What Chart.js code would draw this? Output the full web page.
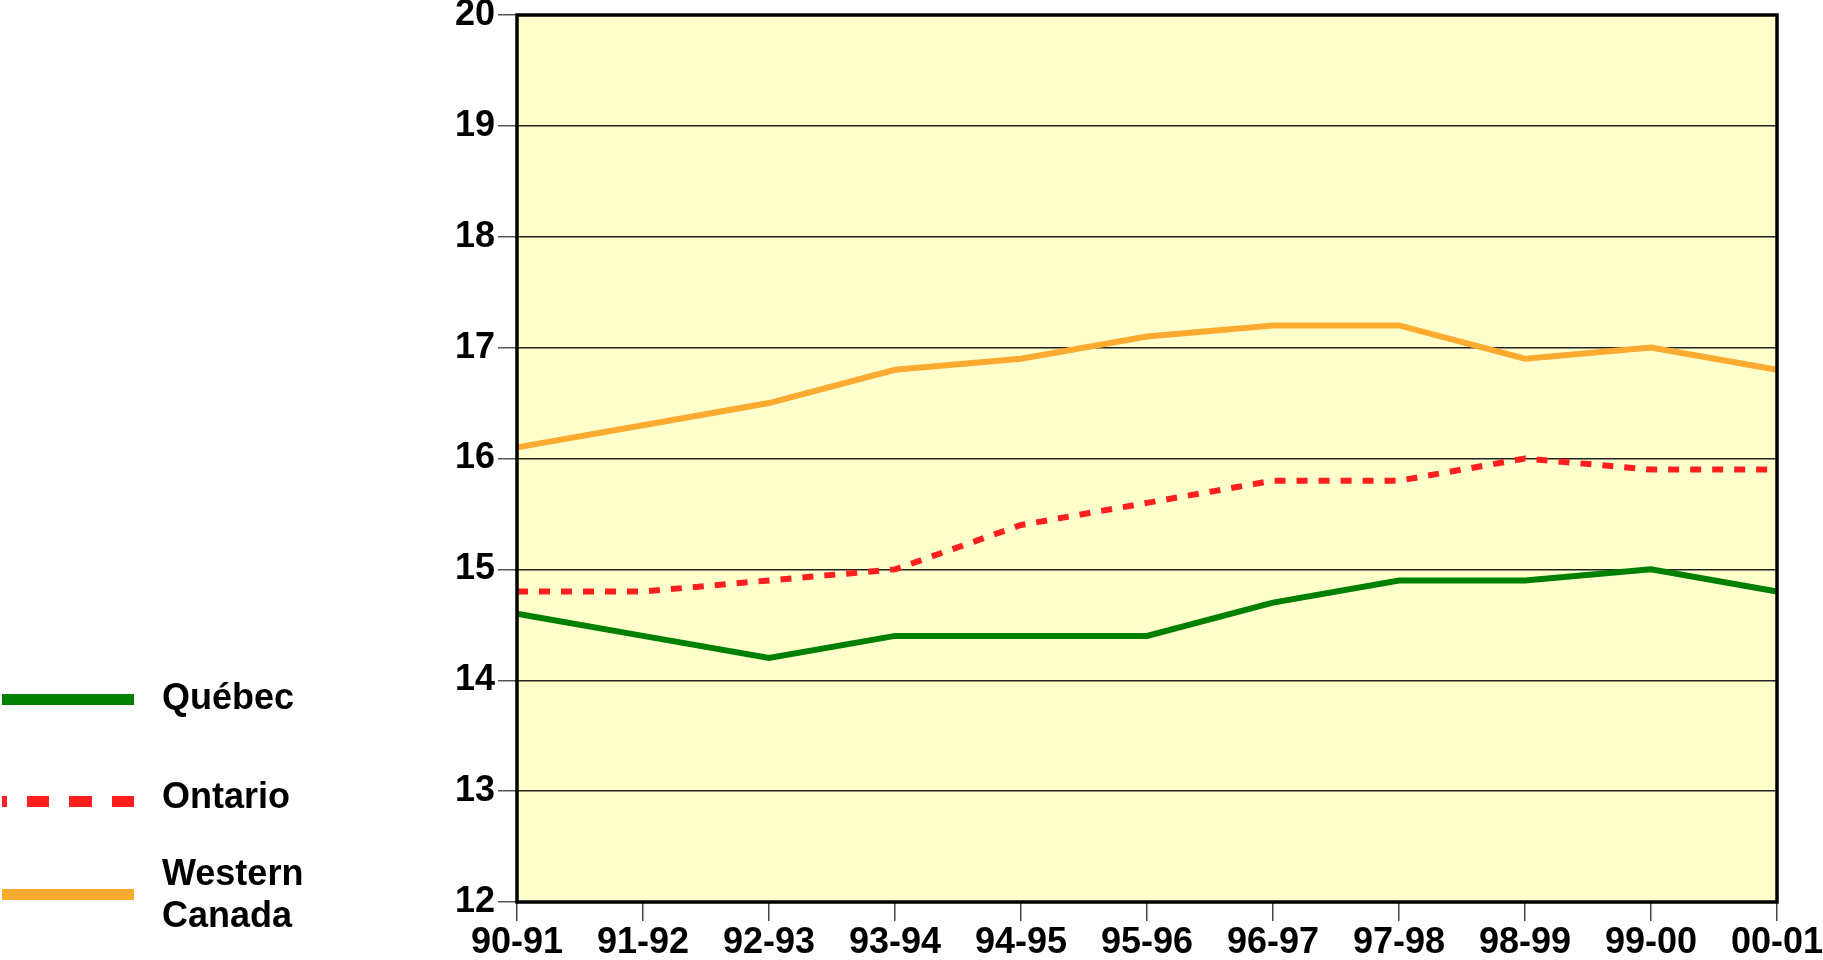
<!DOCTYPE html>
<html>
<head>
<meta charset="utf-8">
<script src="https://cdn.jsdelivr.net/npm/chart.js@4/dist/chart.umd.min.js"></script>
<style>
  html, body { margin: 0; padding: 0; background: #ffffff; }
  #wrap { position: relative; width: 1823px; height: 960px; overflow: hidden; }
  #chart { position: absolute; left: 0; top: 0; }
  .lg-line { position: absolute; left: 2px; width: 132px; height: 11px; }
  .lg-text { position: absolute; left: 162px; font-family: "Liberation Sans", Arial, sans-serif;
             font-weight: bold; font-size: 36px; line-height: 42px; color: #000; white-space: nowrap; }
</style>
</head>
<body>
<div id="wrap">
  <canvas id="chart" width="1823" height="960"></canvas>

  <div class="lg-line" style="top:694px; background:#008000;"></div>
  <div class="lg-text" style="top:676px;">Québec</div>

  <div class="lg-line" style="top:796px; background:repeating-linear-gradient(to left, #ff1f1f 0px, #ff1f1f 22px, transparent 22px, transparent 42.5px);"></div>
  <div class="lg-text" style="top:775px;">Ontario</div>

  <div class="lg-line" style="top:889px; background:#fdaa30;"></div>
  <div class="lg-text" style="top:852px;">Western<br>Canada</div>
</div>

<script>
// School years on the horizontal axis
const years = ['90-91', '91-92', '92-93', '93-94', '94-95', '95-96', '96-97', '97-98', '98-99', '99-00', '00-01'];

// Values per region
const quebec  = [14.6, 14.4, 14.2, 14.4, 14.4, 14.4, 14.7, 14.9, 14.9, 15.0, 14.8];
const ontario = [14.8, 14.8, 14.9, 15.0, 15.4, 15.6, 15.8, 15.8, 16.0, 15.9, 15.9];
const western = [16.1, 16.3, 16.5, 16.8, 16.9, 17.1, 17.2, 17.2, 16.9, 17.0, 16.8];

// Vertical axis range
const yMin = 12;
const yMax = 20;
const yStep = 1;

const FAMILY = '"Liberation Sans", Arial, sans-serif';

// Pale yellow plot background and heavy black frame
const framePlugin = {
  id: 'frame',
  beforeDraw(chart) {
    const a = chart.chartArea, ctx = chart.ctx;
    ctx.save();
    ctx.fillStyle = '#ffffcc';
    ctx.fillRect(a.left, a.top, a.right - a.left, a.bottom - a.top);
    ctx.restore();
  },
  afterDraw(chart) {
    const a = chart.chartArea, ctx = chart.ctx;
    ctx.save();
    ctx.strokeStyle = '#000';
    ctx.lineWidth = 3.5;
    ctx.strokeRect(a.left, a.top, a.right - a.left, a.bottom - a.top);
    ctx.restore();
  }
};

new Chart(document.getElementById('chart'), {
  type: 'line',
  data: {
    labels: years,
    datasets: [
      { label: 'Québec', data: quebec, borderColor: '#008000', borderWidth: 6 },
      { label: 'Ontario', data: ontario, borderColor: '#ff1f1f', borderWidth: 6, borderDash: [11, 11] },
      { label: 'Western Canada', data: western, borderColor: '#fdaa30', borderWidth: 6 }
    ]
  },
  options: {
    responsive: false,
    animation: false,
    events: [],
    layout: { padding: { top: 15, right: 46, bottom: 0, left: 0 } },
    elements: {
      point: { radius: 0 },
      line: { tension: 0, fill: false, borderCapStyle: 'butt', borderJoinStyle: 'miter' }
    },
    plugins: { legend: { display: false }, tooltip: { enabled: false } },
    scales: {
      x: {
        type: 'category',
        offset: false,
        grid: { drawOnChartArea: false, drawTicks: true, tickLength: 19, tickColor: '#444', lineWidth: 1.5 },
        border: { display: false },
        ticks: { font: { family: FAMILY, weight: 'bold', size: 36 }, color: '#000', padding: 0, maxRotation: 0, autoSkip: false },
        afterFit(s) { s.height = 58; s.paddingLeft = 0; s.paddingRight = 0; }
      },
      y: {
        min: yMin,
        max: yMax,
        grid: { color: '#222', lineWidth: 1.5, tickLength: 19, tickColor: '#555' },
        border: { display: false },
        ticks: { stepSize: yStep, font: { family: FAMILY, weight: 'bold', size: 36 }, color: '#000', padding: 3 },
        afterFit(s) { s.width = 517; s.paddingTop = 0; s.paddingBottom = 0; }
      }
    }
  },
  plugins: [framePlugin]
});
</script>
</body>
</html>
